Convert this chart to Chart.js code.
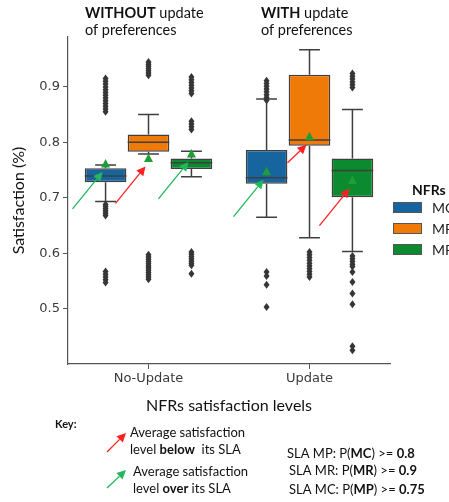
<!DOCTYPE html>
<html>
<head>
<meta charset="utf-8">
<script src="https://cdn.jsdelivr.net/npm/chart.js@4"></script>
<style>
  body { margin: 0; background: #fff; }
  canvas { display: block; }
</style>
</head>
<body>
<canvas id="chart" width="449" height="502"></canvas>
<script>
// Box plot data
const categories = ['No-Update', 'Update'];
const hues = ['MC', 'MR', 'MP'];
const yTicks = [0.5, 0.6, 0.7, 0.8, 0.9];

const mcQ1 = [0.728, 0.725];
const mcMedian = [0.739, 0.736];
const mcQ3 = [0.753, 0.786];
const mcLow = [0.693, 0.665];
const mcHigh = [0.759, 0.878];
const mcMean = [0.761, 0.747];
const mcOutliers = [
    [0.915, 0.91, 0.905, 0.9, 0.895, 0.89, 0.885, 0.88, 0.875, 0.87, 0.865, 0.86, 0.855,
     0.688, 0.684, 0.68, 0.676, 0.672, 0.668, 0.567, 0.562, 0.557, 0.552, 0.547],
    [0.911, 0.906, 0.901, 0.896, 0.891, 0.886, 0.881, 0.876, 0.566, 0.559, 0.543, 0.503]
];

const mrQ1 = [0.783, 0.794];
const mrMedian = [0.8, 0.804];
const mrQ3 = [0.814, 0.922];
const mrLow = [0.779, 0.628];
const mrHigh = [0.85, 0.967];
const mrMean = [0.771, 0.81];
const mrOutliers = [
    [0.945, 0.941, 0.937, 0.933, 0.929, 0.925, 0.921,
     0.597, 0.593, 0.589, 0.585, 0.581, 0.577, 0.573, 0.569, 0.565, 0.561, 0.557, 0.553],
    [0.602, 0.597, 0.592, 0.587, 0.582, 0.577, 0.572, 0.567, 0.562, 0.557]
];

const mpQ1 = [0.752, 0.701];
const mpMedian = [0.763, 0.749];
const mpQ3 = [0.771, 0.771];
const mpLow = [0.738, 0.603];
const mpHigh = [0.784, 0.859];
const mpMean = [0.779, 0.731];
const mpOutliers = [
    [0.918, 0.913, 0.908, 0.903, 0.898, 0.893, 0.888, 0.838, 0.833, 0.828, 0.823,
     0.602, 0.598, 0.594, 0.59, 0.586, 0.582, 0.578, 0.563],
    [0.924, 0.919, 0.914, 0.909, 0.904, 0.899, 0.595, 0.59, 0.585, 0.58, 0.576, 0.566,
     0.548, 0.527, 0.508, 0.432, 0.425]
];

// mean vs SLA: 'over' -> green arrow, 'below' -> red arrow
const mcSla = ['over', 'over'];
const mrSla = ['below', 'below'];
const mpSla = ['over', 'below'];

const boxes = [
    { q1: mcQ1, med: mcMedian, q3: mcQ3, lo: mcLow, hi: mcHigh, mean: mcMean, out: mcOutliers, sla: mcSla },
    { q1: mrQ1, med: mrMedian, q3: mrQ3, lo: mrLow, hi: mrHigh, mean: mrMean, out: mrOutliers, sla: mrSla },
    { q1: mpQ1, med: mpMedian, q3: mpQ3, lo: mpLow, hi: mpHigh, mean: mpMean, out: mpOutliers, sla: mpSla }
];

const colors = ['#17659f', '#f07a08', '#0c8a2f'];
const edge = '#3f3f3f';
const arrowRed = '#ff2020';
const arrowGreen = '#22b85c';
const textFont = 'Lato, "Open Sans", sans-serif';

function drawArrow(ctx, x0, y0, x1, y1, color) {
    const ang = Math.atan2(y1 - y0, x1 - x0);
    const hl = 9, hw = 4.5;
    const bx = x1 - hl * Math.cos(ang), by = y1 - hl * Math.sin(ang);
    ctx.save();
    ctx.strokeStyle = color;
    ctx.fillStyle = color;
    ctx.lineWidth = 1.3;
    ctx.beginPath();
    ctx.moveTo(x0, y0);
    ctx.lineTo(bx, by);
    ctx.stroke();
    ctx.beginPath();
    ctx.moveTo(x1, y1);
    ctx.lineTo(bx + hw * Math.sin(ang), by - hw * Math.cos(ang));
    ctx.lineTo(bx - hw * Math.sin(ang), by + hw * Math.cos(ang));
    ctx.closePath();
    ctx.fill();
    ctx.restore();
}

// text made of [string, bold] parts
function drawRich(ctx, parts, x, y, size, color) {
    ctx.save();
    ctx.textBaseline = 'middle';
    ctx.textAlign = 'left';
    ctx.fillStyle = color || '#111';
    let cx = x;
    parts.forEach(([s, bold]) => {
        ctx.font = (bold ? 'bold ' : '') + size + 'px ' + textFont;
        ctx.fillText(s, cx, y);
        cx += ctx.measureText(s).width;
    });
    ctx.restore();
}

const boxPlugin = {
    id: 'boxExtras',
    afterDatasetsDraw(chart) {
        const ctx = chart.ctx;
        const y = chart.scales.y;
        ctx.save();
        boxes.forEach((b, d) => {
            const meta = chart.getDatasetMeta(d);
            meta.data.forEach((bar, i) => {
                const x = bar.x, w = bar.width;
                ctx.strokeStyle = edge;
                ctx.lineWidth = 1.5;
                ctx.beginPath();
                // whiskers
                ctx.moveTo(x, y.getPixelForValue(b.q3[i]));
                ctx.lineTo(x, y.getPixelForValue(b.hi[i]));
                ctx.moveTo(x, y.getPixelForValue(b.q1[i]));
                ctx.lineTo(x, y.getPixelForValue(b.lo[i]));
                // caps
                ctx.moveTo(x - w / 4, y.getPixelForValue(b.hi[i]));
                ctx.lineTo(x + w / 4, y.getPixelForValue(b.hi[i]));
                ctx.moveTo(x - w / 4, y.getPixelForValue(b.lo[i]));
                ctx.lineTo(x + w / 4, y.getPixelForValue(b.lo[i]));
                // median
                ctx.moveTo(x - w / 2, y.getPixelForValue(b.med[i]));
                ctx.lineTo(x + w / 2, y.getPixelForValue(b.med[i]));
                ctx.stroke();

                // outliers as diamonds
                ctx.fillStyle = '#363636';
                b.out[i].forEach(v => {
                    const py = y.getPixelForValue(v);
                    ctx.beginPath();
                    ctx.moveTo(x, py - 4);
                    ctx.lineTo(x + 3, py);
                    ctx.lineTo(x, py + 4);
                    ctx.lineTo(x - 3, py);
                    ctx.closePath();
                    ctx.fill();
                });

                // mean triangle
                const my = y.getPixelForValue(b.mean[i]);
                ctx.fillStyle = '#1f9e36';
                ctx.beginPath();
                ctx.moveTo(x, my - 5);
                ctx.lineTo(x + 4.5, my + 3.5);
                ctx.lineTo(x - 4.5, my + 3.5);
                ctx.closePath();
                ctx.fill();

                // SLA arrow pointing at the mean
                const short = b.sla[i] === 'below' && d === 1 && i === 1;
                const dx = short ? 19 : 30, dy = short ? 18 : 37;
                const tx = x - 3, ty = my + 8;
                drawArrow(ctx, tx - dx, ty + dy, tx, ty, b.sla[i] === 'over' ? arrowGreen : arrowRed);
            });
        });
        ctx.restore();
    },
    afterDraw(chart) {
        const ctx = chart.ctx;
        // panel headings
        drawRich(ctx, [['WITHOUT', true], [' update', false]], 85, 13, 14.5);
        drawRich(ctx, [['of preferences', false]], 85, 30, 14.5);
        drawRich(ctx, [['WITH', true], [' update', false]], 261, 13, 14.5);
        drawRich(ctx, [['of preferences', false]], 261, 30, 14.5);

        // legend
        drawRich(ctx, [['NFRs', true]], 412, 190, 14);
        hues.forEach((h, k) => {
            const ly = 207 + k * 21;
            ctx.fillStyle = colors[k];
            ctx.strokeStyle = '#555';
            ctx.lineWidth = 1;
            ctx.fillRect(393, ly - 5, 29, 11);
            ctx.strokeRect(393.5, ly - 4.5, 28, 10);
            drawRich(ctx, [[h, false]], 432, ly + 1, 14, '#222');
        });

        // key
        drawRich(ctx, [['Key:', true]], 55, 424, 11);
        drawArrow(ctx, 107, 452, 126, 433, arrowRed);
        drawRich(ctx, [['Average satisfaction', false]], 130, 433, 13);
        drawRich(ctx, [['level ', false], ['below', true], ['  its SLA', false]], 130, 450, 13);
        drawArrow(ctx, 107, 488, 126, 470, arrowGreen);
        drawRich(ctx, [['Average satisfaction', false]], 133, 472, 13);
        drawRich(ctx, [['level ', false], ['over', true], [' its SLA', false]], 133, 489, 13);

        drawRich(ctx, [['SLA MP: P(', false], ['MC', true], [') >= ', false], ['0.8', true]], 287, 454, 13);
        drawRich(ctx, [['SLA MR: P(', false], ['MR', true], [') >= ', false], ['0.9', true]], 289, 471, 13);
        drawRich(ctx, [['SLA MC: P(', false], ['MP', true], [') >= ', false], ['0.75', true]], 289, 490, 13);
    }
};

const datasets = boxes.map((b, d) => ({
    label: hues[d],
    data: categories.map((c, i) => [b.q1[i], b.q3[i]]),
    backgroundColor: colors[d],
    borderColor: edge,
    borderWidth: 1.5,
    borderSkipped: false,
    categoryPercentage: 0.8,
    barPercentage: 0.97
}));

new Chart(document.getElementById('chart'), {
    type: 'bar',
    data: { labels: categories, datasets },
    options: {
        responsive: false,
        animation: false,
        layout: { padding: { top: 37, right: 59, bottom: 87, left: 0 } },
        plugins: { legend: { display: false }, tooltip: { enabled: false } },
        scales: {
            x: {
                grid: { display: true, offset: false, drawOnChartArea: false, drawTicks: true, tickLength: 5, color: '#555' },
                border: { display: true, color: '#555', width: 1.2 },
                ticks: { font: { family: 'DejaVu Sans', size: 13 }, color: '#3a3a3a', padding: 2 },
                title: { display: true, text: 'NFRs satisfaction levels', font: { family: textFont, size: 16 }, color: '#111', padding: 0 },
                afterFit: s => { s.height = 51; }
            },
            y: {
                min: 0.4,
                max: 0.99,
                afterBuildTicks: s => { s.ticks = yTicks.map(v => ({ value: v })); },
                grid: { display: true, drawOnChartArea: false, drawTicks: true, tickLength: 5, color: '#555' },
                border: { display: true, color: '#555', width: 1.2 },
                ticks: { font: { family: 'DejaVu Sans', size: 13 }, color: '#3a3a3a', padding: 3, callback: v => v.toFixed(1) },
                title: { display: true, text: 'Satisfaction (%)', font: { family: textFont, size: 16 }, color: '#111', padding: { top: 9, bottom: 0 } },
                afterFit: s => { s.width = 68; }
            }
        }
    },
    plugins: [boxPlugin]
});
</script>
</body>
</html>
